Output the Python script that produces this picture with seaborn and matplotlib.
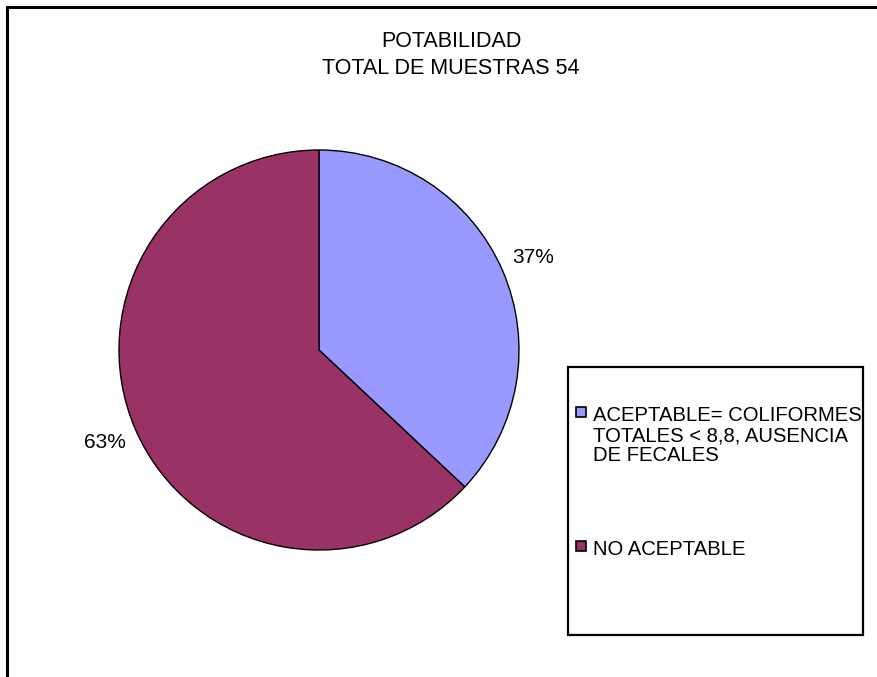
import matplotlib
matplotlib.use("Agg")
import matplotlib.pyplot as plt
from matplotlib.patches import Rectangle
from matplotlib.lines import Line2D
import numpy as np
import seaborn as sns

sns.set_theme(style="white")
plt.rcParams['font.family'] = ['Liberation Sans', 'DejaVu Sans']

categories = ["ACEPTABLE= COLIFORMES\nTOTALES < 8,8, AUSENCIA\nDE FECALES", "NO ACEPTABLE"]
values = [37, 63]
colors = ["#9999FF", "#993366"]
title_lines = ["POTABILIDAD", "TOTAL DE MUESTRAS 54"]

W, H = 878, 677
fig = plt.figure(figsize=(W / 100, H / 100), dpi=100)

def fx(x):
    return x / W

def fy(y):
    return 1 - y / H

# outer frame (left and top edges)
fig.add_artist(Line2D([fx(7), fx(7)], [fy(7), 0], color="black", lw=2.2, transform=fig.transFigure))
fig.add_artist(Line2D([fx(7), 1], [fy(7), fy(7)], color="black", lw=2.2, transform=fig.transFigure))

# pie
cx, cy, r = 319, 350, 200
ax = fig.add_axes([fx(cx - r), fy(cy + r), 2 * r / W, 2 * r / H])
wedges, _ = ax.pie(values, colors=colors, startangle=90, counterclock=False,
                   wedgeprops=dict(edgecolor="black", linewidth=1.0))
ax.set_xlim(-1, 1)
ax.set_ylim(-1, 1)
ax.set_aspect("auto")
ax.axis("off")

# percentage labels
total = sum(values)
start = 90.0
for v in values:
    mid = start - 360 * v / total / 2
    ang = np.deg2rad(mid)
    ax.text(1.165 * np.cos(ang), 1.165 * np.sin(ang), f"{v}%", ha="center", va="center",
            fontsize=15, color="black")
    start -= 360 * v / total

# title
fig.text(fx(451), fy(41.5), title_lines[0], ha="center", va="center", fontsize=15.5, color="black")
fig.text(fx(451), fy(68), title_lines[1], ha="center", va="center", fontsize=15.5, color="black")

# legend box
fig.add_artist(Rectangle((fx(568), fy(635)), (863 - 568) / W, (635 - 367) / H,
                         transform=fig.transFigure, facecolor="white", edgecolor="black", lw=1.6))
entry_y = [412, 546]
for lab, col, ey in zip(categories, colors, entry_y):
    fig.add_artist(Rectangle((fx(576), fy(ey + 5)), 10 / W, 10 / H, transform=fig.transFigure,
                             facecolor=col, edgecolor="black", lw=1.2))
    fig.text(fx(593), fy(ey - 6), lab, ha="left", va="top", fontsize=14.6,
             color="black", linespacing=1.07)

fig.savefig("out.png", dpi=100, facecolor="white")
